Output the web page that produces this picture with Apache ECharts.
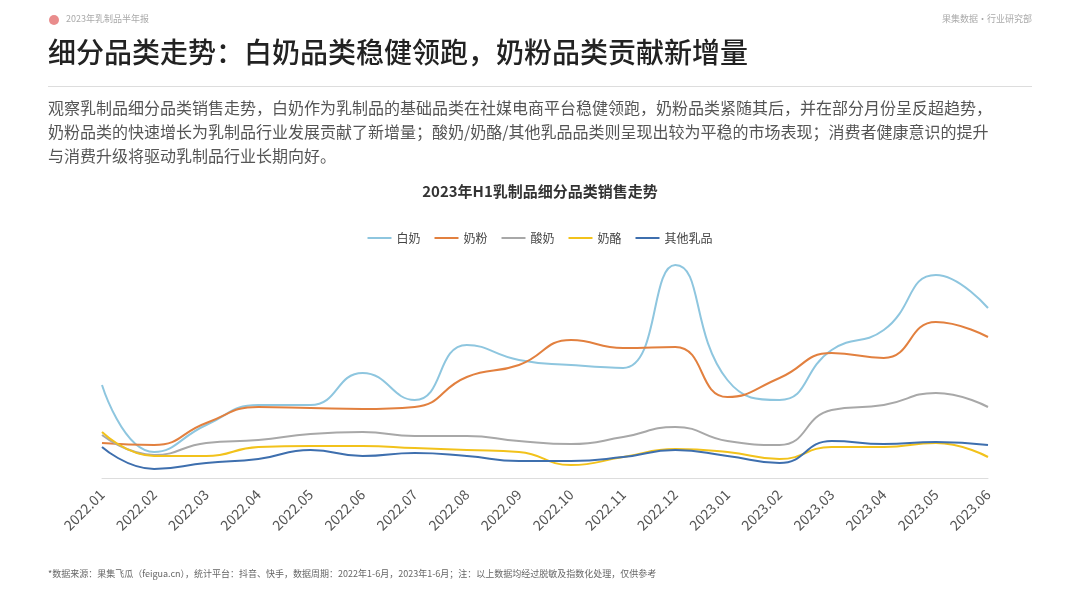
<!DOCTYPE html><html><head><meta charset="utf-8"><script src="https://cdn.jsdelivr.net/npm/echarts@6/dist/echarts.min.js"></script>
<style>body{margin:0}#c{width:1080px;height:608px}</style></head><body><div id="c"></div><script>
const categories=['2022.01','2022.02','2022.03','2022.04','2022.05','2022.06','2022.07','2022.08','2022.09','2022.10','2022.11','2022.12','2023.01','2023.02','2023.03','2023.04','2023.05','2023.06'];
const baiNai=[93,26,53,73,73,105,78,133,118,113,110,213,98,78,128,148,203,170];
const naiFen=[35,33,55,71,70,69,71,101,113,138,130,131,81,100,125,120,156,141];
const suanNai=[43,23,35,38,44,46,42,42,37,34,41,51,37,33,68,73,85,71];
const naiLao=[46,22,22,31,32,32,30,28,26,13,21,29,26,19,31,31,35,21];
const qiTa=[31,9,15,19,28,22,25,22,17,17,21,28,22,15,37,34,36,33];
const names=['白奶','奶粉','酸奶','奶酪','其他乳品'];
const colors=['#8ec6df','#e2803f','#a8a8a8','#f2c21b','#3e6fae'];
const data=[baiNai,naiFen,suanNai,naiLao,qiTa];
const F='"Noto Sans CJK SC","Noto Sans",sans-serif';
const chart=echarts.init(document.getElementById('c'));
chart.setOption({
 textStyle:{fontFamily:F},
 graphic:[
  {type:'circle',shape:{cx:54,cy:20,r:5},style:{fill:'#e98c8c'}},
  {type:'text',left:66,top:14,style:{text:'2023年乳制品半年报',fontSize:9,fill:'#aaa',fontFamily:F}},
  {type:'text',right:48,top:14,style:{text:'果集数据·行业研究部',fontSize:9,fill:'#aaa',fontFamily:F}},
  {type:'text',left:48,top:38,style:{text:'细分品类走势：白奶品类稳健领跑，奶粉品类贡献新增量',fontSize:28,fontWeight:500,fill:'#222',fontFamily:F}},
  {type:'rect',shape:{x:48,y:86,width:984,height:1},style:{fill:'#ddd'}},
  {type:'text',left:48,top:96,style:{text:'观察乳制品细分品类销售走势，白奶作为乳制品的基础品类在社媒电商平台稳健领跑，奶粉品类紧随其后，并在部分月份呈反超趋势，\n奶粉品类的快速增长为乳制品行业发展贡献了新增量；酸奶/奶酪/其他乳品品类则呈现出较为平稳的市场表现；消费者健康意识的提升\n与消费升级将驱动乳制品行业长期向好。',fontSize:16,lineHeight:24,fill:'#555',fontFamily:F}},
  {type:'text',left:'center',top:184,style:{text:'2023年H1乳制品细分品类销售走势',fontSize:15,fontWeight:'bold',fill:'#333',fontFamily:F}},
  {type:'text',left:48,top:569,style:{text:'*数据来源：果集飞瓜（feigua.cn），统计平台：抖音、快手，数据周期：2022年1-6月，2023年1-6月；注：以上数据均经过脱敏及指数化处理，仅供参考',fontSize:9,fill:'#666',fontFamily:F}}
 ],
 legend:{top:227,left:'center',itemWidth:24,itemHeight:2,itemGap:14,icon:'rect',textStyle:{fontSize:12,color:'#444'}},
 grid:{left:102,right:92,top:250,bottom:130},
 xAxis:{type:'category',data:categories,boundaryGap:false,axisLine:{show:true,lineStyle:{color:'#ddd'}},axisTick:{show:false},axisLabel:{rotate:45,color:'#555',fontSize:14,interval:0,margin:14}},
 yAxis:{type:'value',min:0,max:228,show:false,splitLine:{show:false}},
 series:data.map((d,i)=>({name:names[i],type:'line',smooth:true,showSymbol:false,data:d,lineStyle:{width:2,color:colors[i]},itemStyle:{color:colors[i]}}))
});
</script></body></html>
